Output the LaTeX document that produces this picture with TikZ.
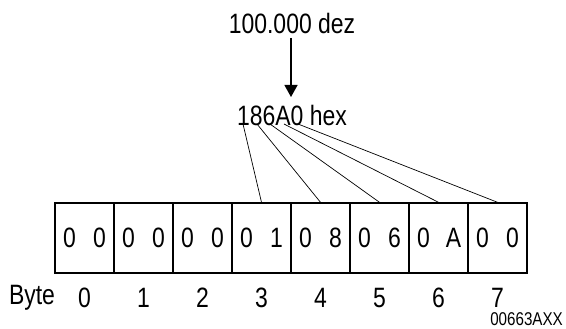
\documentclass[tikz,border=0pt]{standalone}
\usepackage{fontspec}
\setmainfont{Liberation Sans}[FakeStretch=0.82]
\usetikzlibrary{arrows.meta}
\begin{document}
\begin{tikzpicture}[x=1pt,y=-1pt,
  txt/.style={inner sep=0pt,font=\fontsize{28}{32}\selectfont},
  small/.style={inner sep=0pt,font=\fontsize{18.5}{22}\selectfont},
  cell/.style={draw,line width=1.4pt,minimum width=59pt,minimum height=70pt,inner sep=0pt},
  conn/.style={line width=0.7pt}]
\useasboundingbox (0,0) rectangle (566,329);
\node[txt] (dez) at (292,23) {100.000 dez};
\node[txt] (hex) at (292,115) {186A0 hex};
\coordinate (a1) at (291,38);
\coordinate (a2) at (291,97);
\draw[line width=1.3pt,-{Triangle[length=12pt,width=13pt]}] (a1) -- (a2);
\foreach \i/\a/\b in {0/0/0,1/0/0,2/0/0,3/0/1,4/0/8,5/0/6,6/0/A,7/0/0}{
  \node[cell] (c\i) at (84.5+59*\i,238) {};
  \node[txt] (l\i) at (69.5+59*\i,238) {\a};
  \node[txt] (r\i) at (99.5+59*\i,238) {\b};
  \node[txt] (n\i) at (84.5+59*\i,298) {\i};
}
\node[txt] (byte) at (32,298) {Byte};
\node[small,anchor=east] (code) at (563,319) {00663AXX};
\coordinate (h1) at (243,124);
\coordinate (h2) at (257,124);
\coordinate (h3) at (270,124);
\coordinate (h4) at (284,124);
\coordinate (h5) at (298,124);
\draw[conn] (h1) -- (c3.north);
\draw[conn] (h2) -- (c4.north);
\draw[conn] (h3) -- (c5.north);
\draw[conn] (h4) -- (c6.north);
\draw[conn] (h5) -- (c7.north);
\end{tikzpicture}
\end{document}
